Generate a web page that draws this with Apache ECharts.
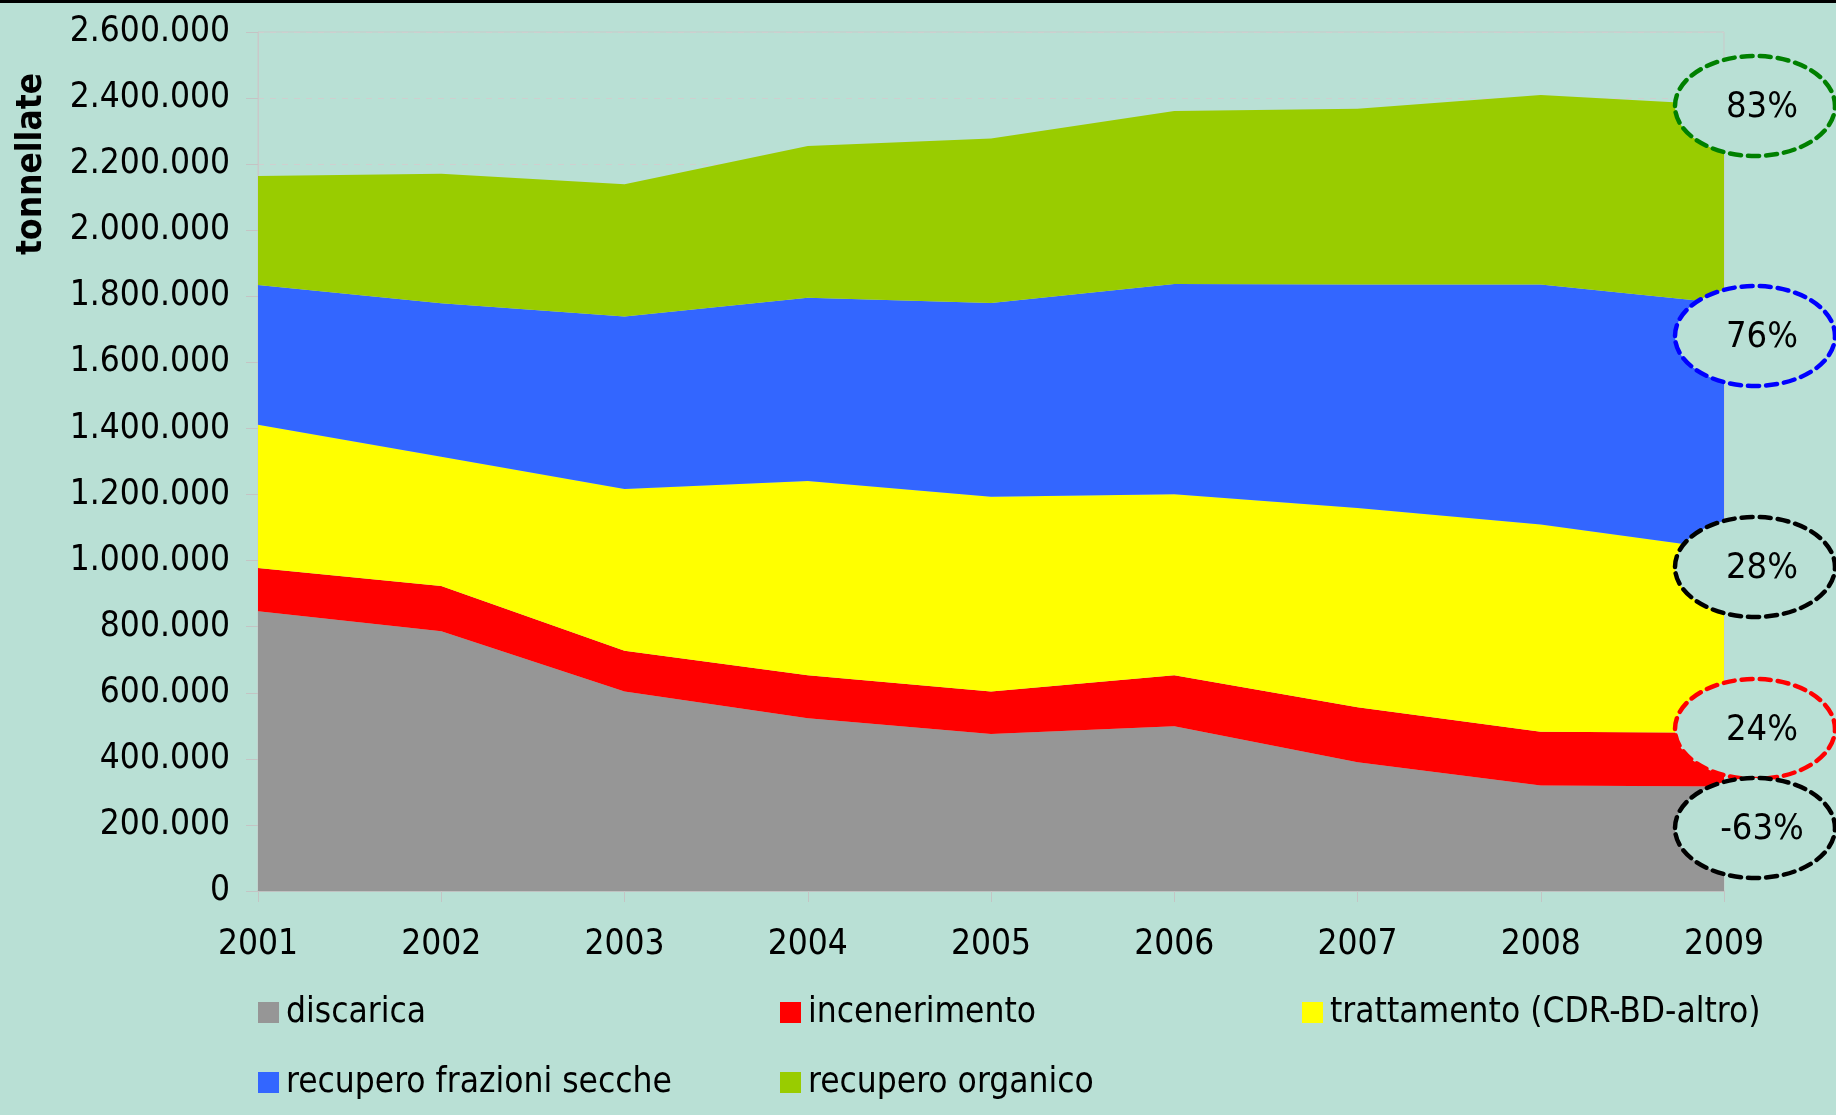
<!DOCTYPE html>
<html>
<head>
<meta charset="utf-8">
<script src="https://cdn.jsdelivr.net/npm/echarts@6/dist/echarts.min.js"></script>
<style>
html,body{margin:0;padding:0;background:#b9e0d5;}
#chart{width:1836px;height:1115px;}
</style>
</head>
<body>
<div id="chart"></div>
<script>
var years = ['2001','2002','2003','2004','2005','2006','2007','2008','2009'];
var discarica = [847000, 786000, 604000, 523000, 475000, 499000, 390000, 319000, 316000];
var incenerimento = [131000, 137000, 123000, 130000, 129000, 154000, 166000, 163000, 163000];
var trattamento = [433000, 391000, 490000, 588000, 589000, 548000, 603000, 627000, 555000];
var recuperoSecche = [423000, 465000, 522000, 555000, 587000, 636000, 677000, 727000, 745000];
var recuperoOrganico = [330000, 392000, 400000, 459000, 498000, 524000, 532000, 573000, 600000];
var seriesNames = ['discarica','incenerimento','trattamento (CDR-BD-altro)','recupero frazioni secche','recupero organico'];
var changeLabels = ['83%','76%','28%','24%','-63%'];

var FONT = "'DejaVu Sans Condensed', 'DejaVu Sans', sans-serif";
var BG = '#b9e0d5';
var colors = ['#969696','#ff0000','#ffff00','#3366ff','#99cc00'];
var dataSets = [discarica, incenerimento, trattamento, recuperoSecche, recuperoOrganico];

function fmt(v){
  return String(v).replace(/\B(?=(\d{3})+(?!\d))/g, '.');
}

var series = seriesNames.map(function(n, i){
  return {
    name: n, type: 'line', stack: 'tot', data: dataSets[i],
    symbol: 'none', showSymbol: false,
    lineStyle: {width: 0},
    areaStyle: {color: colors[i], opacity: 1},
    itemStyle: {color: colors[i]},
    emphasis: {disabled: true},
    z: 2
  };
});

var legendPos = [[258, 995],[780, 995],[1302, 995],[258, 1065],[780, 1065]];
var legends = seriesNames.map(function(n, i){
  return {
    data: [n], left: legendPos[i][0], top: legendPos[i][1],
    icon: 'rect', itemWidth: 21, itemHeight: 21, itemGap: 0,
    padding: 0, selectedMode: false,
    textStyle: {color: '#000', fontSize: 35, fontFamily: FONT, padding: [0,0,0,2]}
  };
});

var ellipses = [
  {cy: 106, color: '#008000'},
  {cy: 336, color: '#0000ff'},
  {cy: 567, color: '#000000'},
  {cy: 729, color: '#ff0000'},
  {cy: 828, color: '#000000'}
];
var graphics = [{
  type: 'rect', left: 0, top: 0, shape: {width: 1836, height: 3}, style: {fill: '#000'}, z: 100
},{
  type: 'text', x: 32, y: 164, rotation: Math.PI/2,
  style: {text: 'tonnellate', fill: '#000', font: 'bold 35px ' + FONT, align: 'center', verticalAlign: 'middle'}, z: 100
}];
ellipses.forEach(function(e, i){
  graphics.push({
    type: 'ellipse', shape: {cx: 1755, cy: e.cy, rx: 80, ry: 50},
    style: {fill: BG, stroke: e.color, lineWidth: 4.5, lineDash: [11, 7], lineCap: 'round'}, z: 50 + i
  });
  graphics.push({
    type: 'text', x: 1762, y: e.cy + 2,
    style: {text: changeLabels[i], fill: '#000', font: '36px ' + FONT, align: 'center', verticalAlign: 'middle'}, z: 60
  });
});

var chart = echarts.init(document.getElementById('chart'), null, {renderer: 'canvas'});
chart.setOption({
  animation: false,
  backgroundColor: BG,
  grid: {left: 258, right: 112, top: 32, bottom: 224, containLabel: false,
         show: true, borderColor: '#c9c9c9', borderWidth: 1, backgroundColor: 'transparent'},
  xAxis: {
    type: 'category', data: years, boundaryGap: false,
    axisLine: {lineStyle: {color: '#bdbdbd', width: 1.5}},
    axisTick: {show: true, length: 11, lineStyle: {color: '#c4c4c4'}},
    axisLabel: {color: '#000', fontSize: 35, fontFamily: FONT, margin: 36},
    splitLine: {show: false}
  },
  yAxis: {
    type: 'value', min: 0, max: 2600000, interval: 200000,
    axisLine: {show: true, lineStyle: {color: '#c9c9c9'}},
    axisTick: {show: true, length: 12, lineStyle: {color: '#c4c4c4'}},
    axisLabel: {color: '#000', fontSize: 35, fontFamily: FONT, margin: 28, formatter: fmt},
    splitLine: {show: true, lineStyle: {color: '#cfcfcf', type: [6, 6], width: 1}}
  },
  legend: legends,
  series: series,
  graphic: graphics
});
</script>
</body>
</html>
